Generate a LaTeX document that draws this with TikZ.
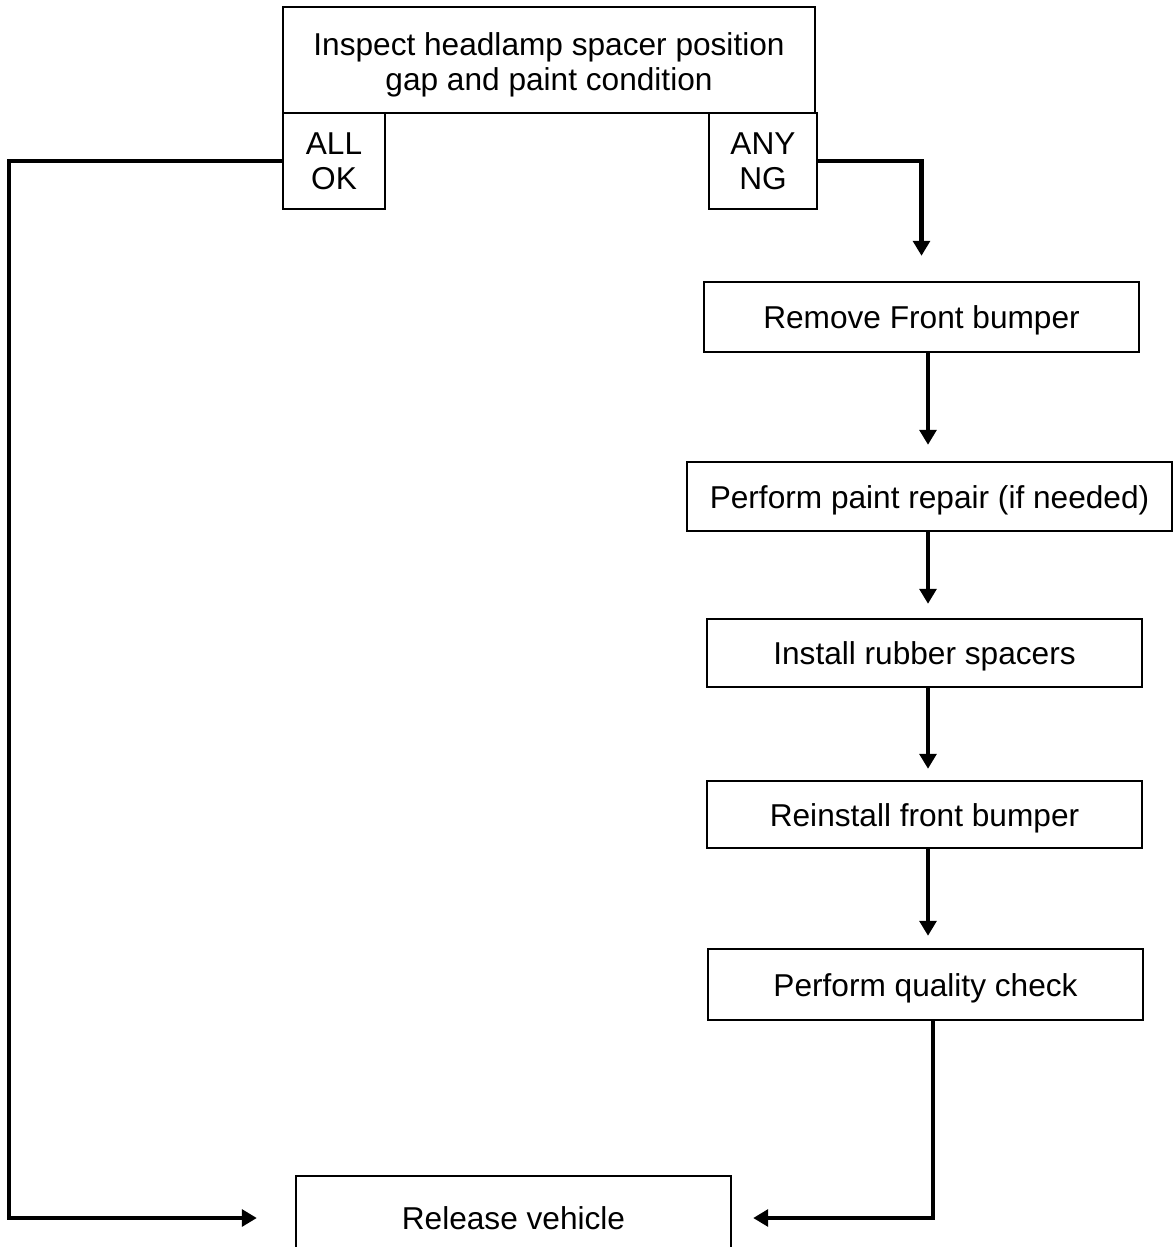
\documentclass[tikz,border=0pt]{standalone}
\usepackage{fontspec}
\setmainfont{Liberation Sans}
\usetikzlibrary{arrows.meta}

\tikzset{
  stepbox/.style={draw, line width=1.4pt, inner sep=0pt, align=center,
    font=\fontsize{18}{20}\selectfont},
  flow/.style={line width=2.3pt, -{Triangle[width=9.5pt,length=8.5pt]}},
}

\begin{document}
\begin{tikzpicture}[x=0.02cm, y=-0.02cm]
\useasboundingbox (0,0) rectangle (1176,1247);
% inspection and the two outcomes
\node[stepbox, minimum width=10.64cm, minimum height=2.12cm] (Inspect) at (549,60) {\rule{0pt}{19pt}Inspect headlamp spacer position\\gap and paint condition};
\node[stepbox, minimum width=2.04cm, minimum height=1.92cm] (AllOk) at (334,161) {ALL\\OK};
\node[stepbox, minimum width=2.16cm, minimum height=1.92cm] (AnyNg) at (763,161) {ANY\\NG};
% repair steps
\node[stepbox, minimum width=8.7cm, minimum height=1.4cm] (Remove) at (921.5,317) {\rule{0pt}{17pt}Remove Front bumper};
\node[stepbox, minimum width=9.7cm, minimum height=1.38cm] (Paint) at (929.5,496.5) {\rule{0pt}{17pt}Perform paint repair (if needed)};
\node[stepbox, minimum width=8.7cm, minimum height=1.36cm] (Install) at (924.5,653) {\rule{0pt}{17pt}Install rubber spacers};
\node[stepbox, minimum width=8.7cm, minimum height=1.34cm] (Reinstall) at (924.5,814.5) {\rule{0pt}{17pt}Reinstall front bumper};
\node[stepbox, minimum width=8.7cm, minimum height=1.42cm] (Quality) at (925.5,984.5) {\rule{0pt}{17pt}Perform quality check};
\node[stepbox, minimum width=8.7cm, minimum height=1.68cm] (Release) at (513.5,1218) {Release vehicle};
\coordinate (Spine) at (928,0);
\coordinate (Exit) at (933,0);
% connectors
\draw[flow, shorten >=0.5cm] (AnyNg.east) -| (Remove.north);
\draw[flow, shorten >=0.32cm] (Remove.south -| Spine) -- (Paint.north -| Spine);
\draw[flow, shorten >=0.28cm] (Paint.south -| Spine) -- (Install.north -| Spine);
\draw[flow, shorten >=0.22cm] (Install.south -| Spine) -- (Reinstall.north -| Spine);
\draw[flow, shorten >=0.24cm] (Reinstall.south -| Spine) -- (Quality.north -| Spine);
\draw[flow, shorten >=0.42cm] (Quality.south -| Exit) |- (Release.east);
\draw[flow, shorten >=0.76cm] (AllOk.west) -- ++(-273,0) |- (Release.west);
\end{tikzpicture}
\end{document}
